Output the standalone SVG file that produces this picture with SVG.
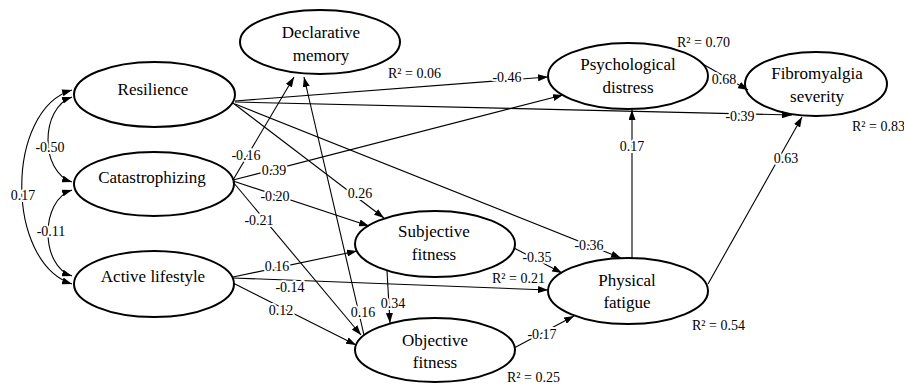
<svg xmlns="http://www.w3.org/2000/svg" width="904" height="386" viewBox="0 0 904 386" font-family="'Liberation Serif', 'Times New Roman', Times, serif">
<defs>
<style>
text{font-family:'Liberation Serif','Times New Roman',Times,serif}
.node ellipse{fill:#fff;stroke:#000;stroke-width:2}
.node text{font-size:17px;text-anchor:middle;fill:#000}
.e{stroke:#000;stroke-width:1.1;fill:none;marker-end:url(#ah)}
.c{stroke:#000;stroke-width:1.1;fill:none;marker-start:url(#ah2);marker-end:url(#ah2)}
.l{font-size:14px;text-anchor:middle;fill:#000;paint-order:stroke;stroke:#fff;stroke-width:4px;stroke-linejoin:round}
.r{font-size:14px;fill:#000}
</style>
<marker id="ah" viewBox="0 0 10 7" refX="10" refY="3.5" markerWidth="10" markerHeight="7" markerUnits="userSpaceOnUse" orient="auto"><path d="M0,0 L10,3.5 L0,7 z" fill="#000"/></marker>
<marker id="ah2" viewBox="0 0 10 7" refX="10" refY="3.5" markerWidth="10" markerHeight="7" markerUnits="userSpaceOnUse" orient="auto-start-reverse"><path d="M0,0 L10,3.5 L0,7 z" fill="#000"/></marker>
</defs>
<rect width="904" height="386" fill="#fff"/>

<g id="declarative-memory" class="node"><ellipse cx="320" cy="42" rx="80" ry="32"/><text x="321" y="38">Declarative</text><text x="321" y="61">memory</text></g>
<g id="resilience" class="node"><ellipse cx="154.5" cy="94.5" rx="80.5" ry="32.5"/><text x="153" y="95">Resilience</text></g>
<g id="catastrophizing" class="node"><ellipse cx="154" cy="184" rx="80" ry="32"/><text x="152" y="183">Catastrophizing</text></g>
<g id="active-lifestyle" class="node"><ellipse cx="154" cy="284" rx="80" ry="33"/><text x="153" y="282">Active lifestyle</text></g>
<g id="subjective-fitness" class="node"><ellipse cx="435" cy="244" rx="80" ry="33"/><text x="434" y="237">Subjective</text><text x="434" y="260">fitness</text></g>
<g id="objective-fitness" class="node"><ellipse cx="435" cy="350" rx="80" ry="32"/><text x="435" y="346">Objective</text><text x="435" y="368">fitness</text></g>
<g id="psychological-distress" class="node"><ellipse cx="628" cy="76" rx="80" ry="33"/><text x="628" y="70">Psychological</text><text x="628" y="93">distress</text></g>
<g id="fibromyalgia-severity" class="node"><ellipse cx="816" cy="84" rx="71" ry="32"/><text x="817" y="79">Fibromyalgia</text><text x="817" y="102">severity</text></g>
<g id="physical-fatigue" class="node"><ellipse cx="628" cy="291" rx="80" ry="33"/><text x="627" y="286">Physical</text><text x="627" y="308">fatigue</text></g>

<g id="connectors">
<path class="c" d="M72,97 C40,108 40,172 72,182"/>
<path class="c" d="M72,190 C40,200 40,266 72,276"/>
<path class="c" d="M72,90 C5,110 5,262 72,284"/>
<path class="e" d="M235,101 L548,77"/>
<path class="e" d="M235,102 L792,115"/>
<path class="e" d="M233,103 L384,218"/>
<path class="e" d="M235,104 L621,258"/>
<path class="e" d="M233,180 L294,77"/>
<path class="e" d="M233,180 L563,95"/>
<path class="e" d="M233,181 L369,226"/>
<path class="e" d="M233,182 L361,335"/>
<path class="e" d="M233,277 L357,251"/>
<path class="e" d="M233,278 L548,290"/>
<path class="e" d="M233,283 L356,345"/>
<path class="e" d="M364,335 L304,77"/>
<path class="e" d="M387,271 L390,323"/>
<path class="e" d="M514,248 L562,273"/>
<path class="e" d="M514,348 L574,316"/>
<path class="e" d="M632,258 L632,110"/>
<path class="e" d="M708,284 L802,117"/>
<path class="e" d="M701,63 L748,90"/>

<text class="l" x="50" y="152">-0.50</text>
<text class="l" x="51" y="236">-0.11</text>
<text class="l" x="23" y="200">0.17</text>
<text class="l" x="507" y="82">-0.46</text>
<text class="l" x="740" y="121">-0.39</text>
<text class="l" x="360" y="198">0.26</text>
<text class="l" x="589" y="250">-0.36</text>
<text class="l" x="246" y="160">-0.16</text>
<text class="l" x="274" y="175">0.39</text>
<text class="l" x="275" y="201">-0.20</text>
<text class="l" x="259" y="225">-0.21</text>
<text class="l" x="277" y="271">0.16</text>
<text class="l" x="290" y="292">-0.14</text>
<text class="l" x="281" y="315">0.12</text>
<text class="l" x="363" y="317">0.16</text>
<text class="l" x="393" y="308">0.34</text>
<text class="l" x="537" y="262">-0.35</text>
<text class="l" x="542" y="339">-0.17</text>
<text class="l" x="632" y="151">0.17</text>
<text class="l" x="786" y="163">0.63</text>
<text class="l" x="724" y="84">0.68</text>
</g>

<g id="r-squared">
<text class="r" x="388" y="78">R² = 0.06</text>
<text class="r" x="677" y="47">R² = 0.70</text>
<text class="r" x="852" y="131">R² = 0.83</text>
<text class="r" x="492" y="283">R² = 0.21</text>
<text class="r" x="692" y="330">R² = 0.54</text>
<text class="r" x="507" y="382">R² = 0.25</text>
</g>
</svg>
